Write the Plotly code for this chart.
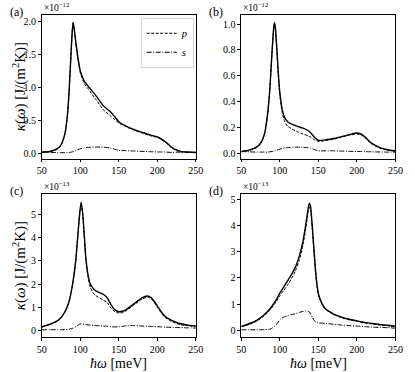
import plotly.graph_objects as go

# panel (a): units of 1e-12
x_a = [50, 60, 70, 75, 80, 83, 85, 87, 89, 90.5, 92, 94, 97, 100, 105, 110, 120, 130, 140, 145,
       150, 160, 170, 180, 190, 200, 205, 210, 215, 220, 225, 230, 240, 250]
tot_a = [0.02, 0.03, 0.07, 0.13, 0.3, 0.55, 0.85, 1.3, 1.75, 1.99, 1.9, 1.7, 1.45, 1.25, 1.1, 1.02,
         0.88, 0.72, 0.62, 0.55, 0.48, 0.41, 0.36, 0.32, 0.28, 0.25, 0.22, 0.18, 0.13, 0.08, 0.05,
         0.03, 0.02, 0.015]
p_a = [0.01, 0.02, 0.06, 0.12, 0.29, 0.54, 0.84, 1.29, 1.74, 1.98, 1.89, 1.68, 1.42, 1.22, 1.06,
       0.98, 0.82, 0.66, 0.56, 0.51, 0.46, 0.40, 0.35, 0.31, 0.27, 0.24, 0.21, 0.17, 0.12, 0.07,
       0.04, 0.025, 0.015, 0.01]
s_a = [0.02, 0.015, 0.01, 0.01, 0.01, 0.01, 0.01, 0.015, 0.02, 0.025, 0.03, 0.04, 0.055, 0.07,
       0.08, 0.09, 0.095, 0.093, 0.08, 0.06, 0.045, 0.04, 0.035, 0.03, 0.025, 0.02, 0.02, 0.02,
       0.015, 0.015, 0.015, 0.015, 0.012, 0.01]

# panel (b): units of 1e-12
x_b = [50, 60, 70, 75, 80, 84, 87, 90, 92, 93, 94, 96, 98, 100, 103, 106, 110, 120, 130, 137,
       140, 145, 150, 160, 170, 180, 190, 200, 205, 210, 215, 220, 230, 240, 250]
tot_b = [0.015, 0.025, 0.05, 0.08, 0.15, 0.3, 0.5, 0.8, 0.97, 1.01, 0.98, 0.82, 0.62, 0.47, 0.34,
         0.28, 0.245, 0.215, 0.195, 0.175, 0.16, 0.125, 0.1, 0.105, 0.115, 0.13, 0.145, 0.158,
         0.15, 0.13, 0.1, 0.075, 0.045, 0.028, 0.02]
p_b = [0.012, 0.022, 0.045, 0.075, 0.145, 0.295, 0.495, 0.795, 0.965, 1.0, 0.97, 0.81, 0.6, 0.45,
       0.32, 0.25, 0.21, 0.175, 0.15, 0.135, 0.125, 0.105, 0.093, 0.1, 0.11, 0.125, 0.14, 0.15,
       0.145, 0.125, 0.095, 0.07, 0.04, 0.025, 0.017]
s_b = [0.015, 0.012, 0.01, 0.01, 0.01, 0.01, 0.012, 0.015, 0.018, 0.02, 0.022, 0.025, 0.03, 0.033,
       0.038, 0.042, 0.045, 0.048, 0.047, 0.044, 0.04, 0.03, 0.02, 0.02, 0.02, 0.018, 0.016, 0.015,
       0.015, 0.014, 0.013, 0.012, 0.011, 0.01, 0.01]

# panel (c): units of 1e-13
x_c = [50, 60, 70, 75, 80, 85, 90, 94, 97, 99, 101, 103, 105, 107, 110, 113, 117, 120, 130, 135,
       140, 145, 150, 155, 160, 170, 180, 187, 190, 195, 200, 205, 210, 220, 230, 240, 250]
tot_c = [0.15, 0.25, 0.4, 0.55, 0.8, 1.2, 2.0, 3.0, 4.2, 5.0, 5.55, 5.1, 4.2, 3.2, 2.4, 2.0, 1.8,
         1.7, 1.55, 1.4, 1.1, 0.88, 0.8, 0.82, 0.9, 1.15, 1.4, 1.48, 1.45, 1.3, 1.05, 0.8, 0.6,
         0.4, 0.28, 0.22, 0.18]
p_c = [0.13, 0.23, 0.38, 0.53, 0.78, 1.18, 1.98, 2.97, 4.15, 4.95, 5.5, 5.05, 4.15, 3.12, 2.3,
       1.85, 1.6, 1.5, 1.3, 1.2, 0.95, 0.8, 0.74, 0.76, 0.85, 1.1, 1.35, 1.43, 1.4, 1.25, 1.0,
       0.75, 0.55, 0.35, 0.24, 0.19, 0.15]
s_c = [0.02, 0.02, 0.02, 0.02, 0.025, 0.04, 0.08, 0.15, 0.22, 0.26, 0.27, 0.26, 0.25, 0.24, 0.23,
       0.22, 0.21, 0.2, 0.18, 0.17, 0.15, 0.14, 0.15, 0.17, 0.19, 0.2, 0.18, 0.17, 0.165, 0.155,
       0.15, 0.14, 0.13, 0.12, 0.11, 0.1, 0.09]

# panel (d): units of 1e-13
x_d = [50, 60, 70, 80, 88, 95, 100, 105, 110, 115, 120, 125, 130, 134, 137, 138.5, 140, 142, 144,
       146, 148, 150, 155, 160, 170, 180, 190, 200, 210, 220, 230, 240, 250]
tot_d = [0.15, 0.25, 0.38, 0.6, 0.85, 1.15, 1.42, 1.65, 1.88, 2.12, 2.4, 2.8, 3.4, 4.1, 4.7, 4.85,
         4.7, 4.0, 3.2, 2.4, 1.8, 1.4, 1.0, 0.8, 0.62, 0.5, 0.42, 0.36, 0.3, 0.26, 0.22, 0.19, 0.16]
p_d = [0.13, 0.22, 0.35, 0.56, 0.8, 1.08, 1.32, 1.52, 1.72, 1.97, 2.25, 2.65, 3.25, 3.95, 4.55,
       4.7, 4.55, 3.9, 3.1, 2.35, 1.75, 1.35, 0.97, 0.78, 0.6, 0.48, 0.4, 0.34, 0.28, 0.24, 0.2,
       0.17, 0.13]
s_d = [0.02, 0.02, 0.02, 0.025, 0.05, 0.2, 0.4, 0.5, 0.55, 0.6, 0.63, 0.68, 0.72, 0.74, 0.72, 0.7,
       0.62, 0.5, 0.4, 0.33, 0.29, 0.28, 0.27, 0.26, 0.23, 0.2, 0.18, 0.16, 0.14, 0.12, 0.11, 0.1,
       0.08]

x_ticks = [50, 100, 150, 200, 250]
panel_labels = ["(a)", "(b)", "(c)", "(d)"]
exponents = ["−12", "−12", "−13", "−13"]

W, H = 415, 372
FONT = "Liberation Serif, Times New Roman, serif"

# pixel boxes of the four axes: left, right, top, bottom
boxes = [(38, 197, 14, 158), (244, 403, 14, 158), (38, 197, 194, 337), (244, 403, 194, 337)]
y_ranges = [[-0.08, 2.1], [-0.04, 1.07], [-0.3, 5.88], [-0.26, 5.18]]
y_ticks = [[0, 0.5, 1.0, 1.5, 2.0], [0, 0.2, 0.4, 0.6, 0.8, 1.0], [0, 1, 2, 3, 4, 5], [0, 1, 2, 3, 4, 5]]
y_fmt = [".1f", ".1f", "d", "d"]

panels = [(x_a, tot_a, p_a, s_a), (x_b, tot_b, p_b, s_b), (x_c, tot_c, p_c, s_c), (x_d, tot_d, p_d, s_d)]

fig = go.Figure()
annotations = []

for i, (xs, tot, p, s) in enumerate(panels):
    n = "" if i == 0 else str(i + 1)
    xa, ya = "x" + n, "y" + n
    fig.add_trace(go.Scatter(x=xs, y=tot, mode="lines", xaxis=xa, yaxis=ya, showlegend=False,
                             line=dict(color="black", width=1.4, shape="spline", smoothing=0.5)))
    fig.add_trace(go.Scatter(x=xs, y=p, mode="lines", xaxis=xa, yaxis=ya, name="<i>p</i>",
                             showlegend=(i == 0),
                             line=dict(color="black", width=1, dash="3px,1.5px",
                                       shape="spline", smoothing=0.5)))
    fig.add_trace(go.Scatter(x=xs, y=s, mode="lines", xaxis=xa, yaxis=ya, name="<i>s</i>",
                             showlegend=(i == 0),
                             line=dict(color="black", width=1, dash="5px,1.5px,1px,1.5px",
                                       shape="spline", smoothing=0.5)))

    l, r, t, b = boxes[i]
    axis_common = dict(showline=True, mirror=True, linecolor="black", linewidth=0.8,
                       ticks="outside", ticklen=3, tickwidth=0.8, tickcolor="black",
                       showgrid=False, zeroline=False,
                       tickfont=dict(family=FONT, size=10, color="black"))
    fig.layout["xaxis" + n] = dict(axis_common, domain=[l / W, r / W], anchor=ya,
                                   range=[50, 250], tickvals=x_ticks)
    fig.layout["yaxis" + n] = dict(axis_common, domain=[1 - b / H, 1 - t / H], anchor=xa,
                                   range=y_ranges[i], tickvals=y_ticks[i],
                                   tickformat=y_fmt[i])

    annotations.append(dict(text="×10<sup>" + exponents[i] + "</sup>", xref="paper", yref="paper",
                            x=l / W, y=1 - t / H, xanchor="left", yanchor="bottom",
                            showarrow=False, font=dict(family=FONT, size=9.5, color="black")))
    annotations.append(dict(text=panel_labels[i], xref="paper", yref="paper",
                            x=(l - 26) / W, y=1 - (t - 3) / H, xanchor="center", yanchor="middle",
                            showarrow=False, font=dict(family=FONT, size=12, color="black")))
    if i % 2 == 0:
        annotations.append(dict(text="<i>κ</i>(<i>ω</i>) [J/(m<sup>2</sup>K)]", xref="paper",
                                yref="paper", x=15 / W, y=1 - (t + b) / 2 / H, textangle=-90,
                                xanchor="center", yanchor="middle", showarrow=False,
                                font=dict(family=FONT, size=15, color="black")))
    if i >= 2:
        annotations.append(dict(text="<i>ħω</i> [meV]", xref="paper", yref="paper",
                                x=(l + r) / 2 / W, y=1 - 363 / H, xanchor="center",
                                yanchor="middle", showarrow=False,
                                font=dict(family=FONT, size=14, color="black")))

fig.update_layout(
    width=W, height=H,
    margin=dict(l=0, r=0, t=0, b=0),
    paper_bgcolor="white", plot_bgcolor="white",
    annotations=annotations,
    legend=dict(x=195 / W, y=1 - 17 / H, xanchor="right", yanchor="top",
                bordercolor="#cccccc", borderwidth=0.8, bgcolor="white",
                font=dict(family=FONT, size=10.5, color="black"),
                itemwidth=30, tracegroupgap=0),
)

# the page body has a default margin; drop it so the figure fills the window
fig.write_html("out.html", config={"displayModeBar": False},
               post_script="document.body.style.margin='0';")
